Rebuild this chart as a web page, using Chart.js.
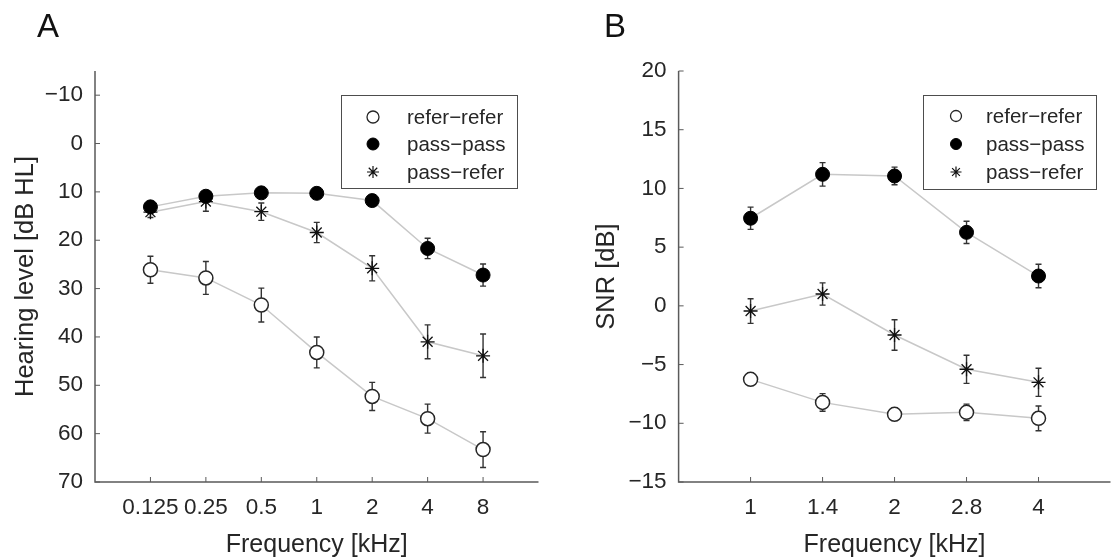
<!DOCTYPE html>
<html>
<head>
<meta charset="utf-8">
<script src="https://cdn.jsdelivr.net/npm/chart.js@4"></script>
<style>
  html, body { margin: 0; padding: 0; background: #fff; }
  body { width: 1113px; height: 560px; position: relative; overflow: hidden; font-family: "Liberation Sans", Arial, sans-serif; }
  .panel { position: absolute; top: 0; height: 560px; }
  #wrapA { left: 0; width: 556px; }
  #wrapB { left: 556px; width: 563px; }
  .letter { position: absolute; top: 7px; font-size: 33px; color: #111; }
</style>
</head>
<body>
<div class="panel" id="wrapA"><canvas id="chartA"></canvas></div>
<div class="panel" id="wrapB"><canvas id="chartB"></canvas></div>
<div class="letter" style="left:37px">A</div>
<div class="letter" style="left:604px">B</div>
<script>
// ---- Panel A: hearing level per frequency ----
const freqA = ['0.125', '0.25', '0.5', '1', '2', '4', '8'];
const yTicksA = [-10, 0, 10, 20, 30, 40, 50, 60, 70];
const referReferA = [26.1, 27.8, 33.4, 43.2, 52.3, 56.9, 63.3];
const referReferErrA = [2.8, 3.4, 3.5, 3.2, 2.9, 3.0, 3.7];
const passPassA = [13.1, 10.9, 10.2, 10.3, 11.8, 21.7, 27.2];
const passPassErrA = [0.8, 0.8, 0.8, 0.6, 0.7, 2.1, 2.3];
const passReferA = [14.2, 12.0, 14.1, 18.4, 25.8, 41.0, 43.9];
const passReferErrA = [1.1, 2.0, 1.8, 2.1, 2.6, 3.5, 4.5];

// ---- Panel B: SNR per frequency ----
const freqB = ['1', '1.4', '2', '2.8', '4'];
const yTicksB = [-15, -10, -5, 0, 5, 10, 15, 20];
const referReferB = [-6.26, -8.22, -9.24, -9.07, -9.58];
const referReferErrB = [0.5, 0.75, 0.3, 0.7, 1.05];
const passPassB = [7.46, 11.2, 11.06, 6.26, 2.54];
const passPassErrB = [0.95, 1.0, 0.75, 0.95, 1.0];
const passReferB = [-0.44, 1.01, -2.48, -5.4, -6.51];
const passReferErrB = [1.05, 0.95, 1.3, 1.2, 1.2];

const groupNames = ['refer\u2212refer', 'pass\u2212pass', 'pass\u2212refer'];

const TEXT = '#262626';
const AXIS = '#5a5a5a';
const LINE = '#c8c8c8';
const FONT = '"Liberation Sans", Arial, sans-serif';

const fmtNum = v => (v < 0 ? '\u2212' + Math.abs(v) : String(v));

function toPoints(values) {
  return values.map((v, i) => ({ x: i, y: v }));
}

// marker styles per group
const markerStyles = [
  { pointStyle: 'circle', pointBackgroundColor: '#fff', pointBorderColor: TEXT, pointBorderWidth: 1.5, pointRadius: 7 },
  { pointStyle: 'circle', pointBackgroundColor: '#000', pointBorderColor: '#000', pointBorderWidth: 1, pointRadius: 7 },
  { pointStyle: 'star', pointBackgroundColor: '#000', pointBorderColor: '#111', pointBorderWidth: 1.3, pointRadius: 7 }
];

function makeDatasets(series, errs) {
  return series.map((vals, k) => Object.assign({
    label: groupNames[k],
    data: toPoints(vals),
    errors: errs[k],
    borderColor: LINE,
    borderWidth: 1.5,
    tension: 0,
    clip: false
  }, markerStyles[k]));
}

/**
 * Error bars, inward ticks, axis lines and the boxed legend
 */
const decorPlugin = {
  id: 'decor',
  beforeDatasetsDraw(chart) {
    const { ctx, scales: { x, y } } = chart;
    ctx.save();
    ctx.strokeStyle = '#333';
    ctx.lineWidth = 1.4;
    chart.data.datasets.forEach(ds => {
      ds.data.forEach((p, i) => {
        const e = ds.errors[i];
        const px = x.getPixelForValue(p.x);
        const y1 = y.getPixelForValue(p.y - e);
        const y2 = y.getPixelForValue(p.y + e);
        ctx.beginPath();
        ctx.moveTo(px, y1); ctx.lineTo(px, y2);
        ctx.moveTo(px - 3, y1); ctx.lineTo(px + 3, y1);
        ctx.moveTo(px - 3, y2); ctx.lineTo(px + 3, y2);
        ctx.stroke();
      });
    });
    ctx.restore();
  },
  afterDraw(chart, args, opts) {
    const { ctx, chartArea: area, scales: { x, y } } = chart;
    ctx.save();
    // axes
    ctx.strokeStyle = AXIS;
    ctx.lineWidth = 1.5;
    ctx.beginPath();
    ctx.moveTo(area.left, area.top);
    ctx.lineTo(area.left, area.bottom);
    ctx.lineTo(area.right, area.bottom);
    ctx.stroke();
    // inward ticks
    ctx.lineWidth = 1;
    ctx.beginPath();
    x.ticks.forEach((t, i) => {
      const px = x.getPixelForTick(i);
      ctx.moveTo(px, area.bottom); ctx.lineTo(px, area.bottom - 5);
    });
    y.ticks.forEach((t, i) => {
      const py = y.getPixelForTick(i);
      ctx.moveTo(area.left, py); ctx.lineTo(area.left + 5, py);
    });
    ctx.stroke();

    // legend
    const lg = opts.legend;
    if (lg) {
      ctx.fillStyle = '#fff';
      ctx.fillRect(lg.left, lg.top, lg.right - lg.left, lg.bottom - lg.top);
      ctx.strokeStyle = '#4d4d4d';
      ctx.lineWidth = 1;
      ctx.strokeRect(lg.left + 0.5, lg.top + 0.5, lg.right - lg.left, lg.bottom - lg.top);
      ctx.font = '20.5px ' + FONT;
      ctx.textBaseline = 'middle';
      ctx.textAlign = 'left';
      groupNames.forEach((name, k) => {
        const cy = lg.rows[k];
        const cx = lg.markerX;
        const r = lg.r;
        if (k < 2) {
          ctx.beginPath();
          ctx.arc(cx, cy, r, 0, Math.PI * 2);
          ctx.fillStyle = k === 0 ? '#fff' : '#000';
          ctx.fill();
          ctx.strokeStyle = k === 0 ? TEXT : '#000';
          ctx.lineWidth = k === 0 ? 1.3 : 1;
          ctx.stroke();
        } else {
          ctx.strokeStyle = '#111';
          ctx.lineWidth = 1.2;
          ctx.beginPath();
          for (let a = 0; a < 4; a++) {
            const ang = a * Math.PI / 4;
            ctx.moveTo(cx - Math.sin(ang) * r, cy - Math.cos(ang) * r);
            ctx.lineTo(cx + Math.sin(ang) * r, cy + Math.cos(ang) * r);
          }
          ctx.stroke();
        }
        ctx.fillStyle = TEXT;
        ctx.fillText(name, lg.textX, cy + 1);
      });
    }
    ctx.restore();
  }
};

function makeChart(canvasId, cfg) {
  return new Chart(document.getElementById(canvasId), {
    type: 'line',
    plugins: [decorPlugin],
    data: { datasets: makeDatasets(cfg.series, cfg.errs) },
    options: {
      responsive: true,
      maintainAspectRatio: false,
      animation: false,
      layout: { padding: { left: 0, top: 71, right: cfg.padRight, bottom: 0 } },
      plugins: {
        legend: { display: false },
        tooltip: { enabled: false },
        decor: { legend: cfg.legend }
      },
      scales: {
        x: {
          type: 'linear',
          min: -1,
          max: cfg.xMax,
          afterBuildTicks: s => { s.ticks = cfg.labels.map((_, i) => ({ value: i })); },
          afterFit: s => { s.height = 78; },
          grid: { display: false, drawTicks: false },
          border: { display: false },
          ticks: {
            padding: 12,
            color: TEXT,
            font: { family: FONT, size: 22.5 },
            maxRotation: 0,
            callback: v => cfg.labels[v]
          },
          title: {
            display: true,
            text: 'Frequency [kHz]',
            color: TEXT,
            font: { family: FONT, size: 25 },
            padding: { top: 0, bottom: 0 }
          }
        },
        y: {
          reverse: cfg.reverse,
          min: cfg.yMin,
          max: cfg.yMax,
          afterBuildTicks: s => { s.ticks = cfg.yTicks.map(v => ({ value: v })); },
          afterFit: s => { s.width = cfg.yWidth; },
          grid: { display: false, drawTicks: false },
          border: { display: false },
          ticks: {
            padding: 12,
            color: TEXT,
            font: { family: FONT, size: 22.5 },
            callback: v => fmtNum(v)
          },
          title: {
            display: true,
            text: cfg.yTitle,
            color: TEXT,
            font: { family: FONT, size: 25.5 },
            padding: { top: cfg.yTitlePad, bottom: 0 }
          }
        }
      }
    }
  });
}

makeChart('chartA', {
  labels: freqA,
  yTicks: yTicksA,
  series: [referReferA, passPassA, passReferA],
  errs: [referReferErrA, passPassErrA, passReferErrA],
  reverse: true,
  yMin: -15, yMax: 70,
  xMax: freqA.length,
  yWidth: 95,
  padRight: 17.5,
  yTitle: 'Hearing level [dB HL]',
  yTitlePad: 10.5,
  legend: { left: 341, top: 95, right: 517, bottom: 188, markerX: 373, textX: 407, r: 6, rows: [117, 144, 172] }
});

makeChart('chartB', {
  labels: freqB,
  yTicks: yTicksB,
  series: [referReferB, passPassB, passReferB],
  errs: [referReferErrB, passPassErrB, passReferErrB],
  reverse: false,
  yMin: -15, yMax: 20,
  xMax: freqB.length,
  yWidth: 122.6,
  padRight: 0,
  yTitle: 'SNR [dB]',
  yTitlePad: 35.5,
  legend: { left: 367, top: 95, right: 540, bottom: 189, markerX: 400, textX: 430, r: 5.5, rows: [116, 144, 172] }
});
</script>
</body>
</html>
